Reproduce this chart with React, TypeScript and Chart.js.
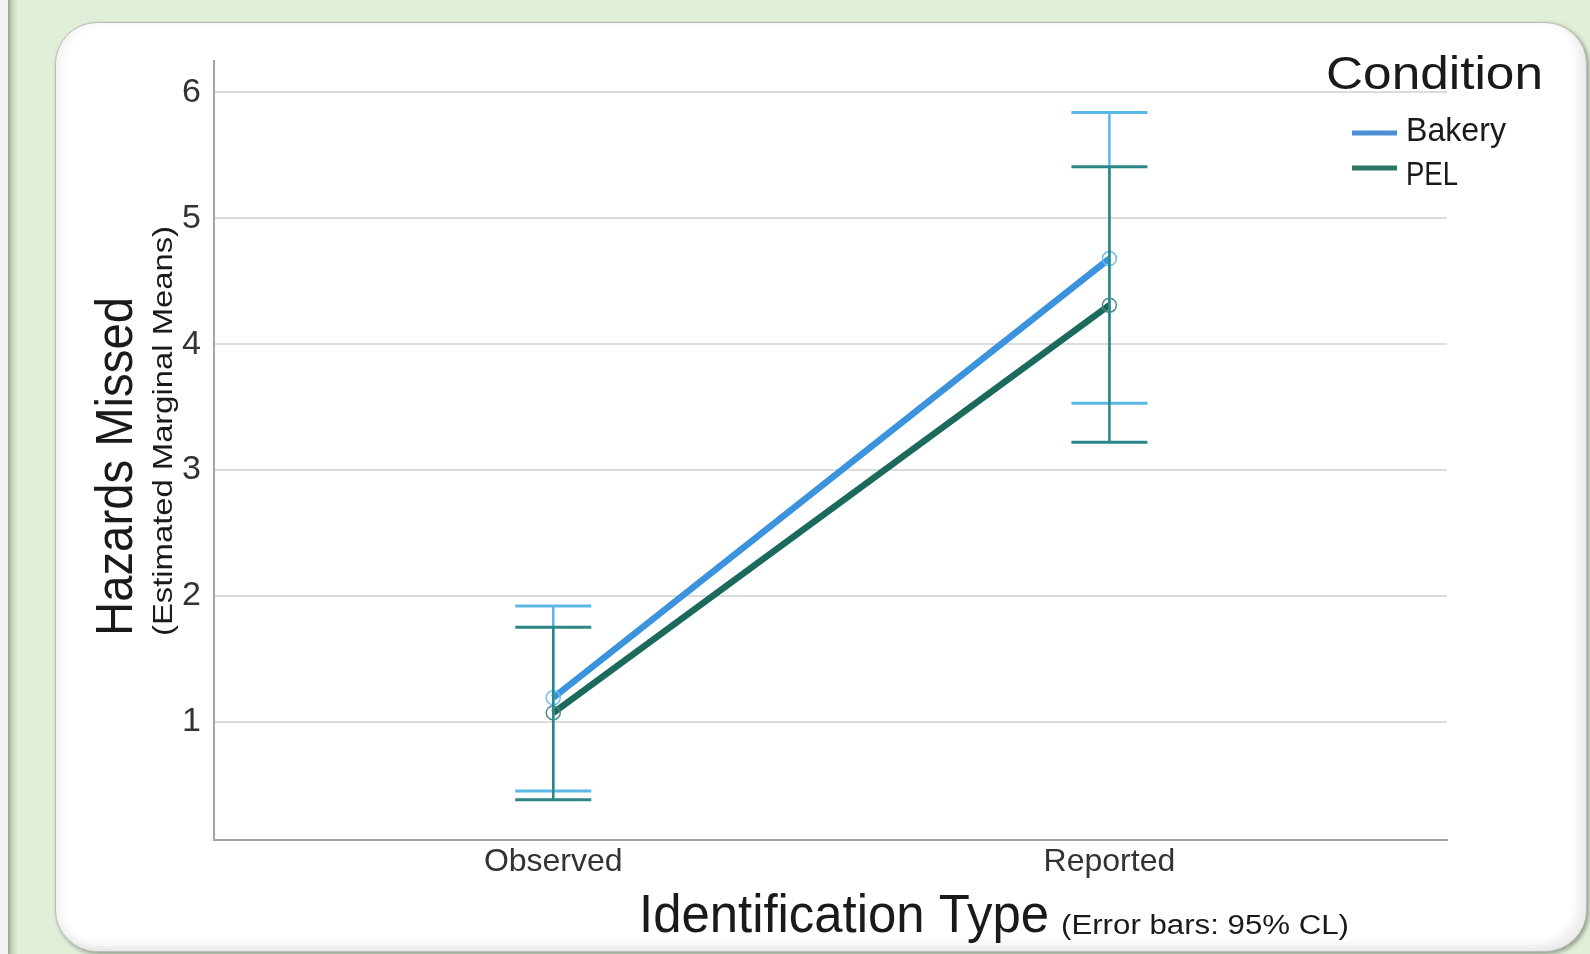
import React, { useEffect, useRef } from "react";
import { Chart, registerables } from "chart.js";

Chart.register(...registerables);

const categories = ["Observed", "Reported"];
const seriesNames = ["Bakery", "PEL"];
const bakeryMeans = [1.19, 4.68];
const bakeryLower = [0.45, 3.53];
const bakeryUpper = [1.92, 5.84];
const pelMeans = [1.07, 4.31];
const pelLower = [0.38, 3.22];
const pelUpper = [1.75, 5.41];
const yTicks = [1, 2, 3, 4, 5, 6];

const lineColors = ["#3b93de", "#1b6a5c"];
const markerColors = ["#6cc0ea", "#4a8a80"];
const errColors = ["#5ab8e6", "#2b8787"];
const legendColors = ["#4a8fd6", "#2f7565"];

const FONT = '"Liberation Sans", Arial, sans-serif';

function fitText(
  ctx: CanvasRenderingContext2D,
  text: string,
  x: number,
  y: number,
  size: number,
  width: number,
  rotate = false
) {
  ctx.save();
  ctx.font = `${size}px ${FONT}`;
  const w = ctx.measureText(text).width;
  const sx = width / w;
  ctx.translate(x, y);
  if (rotate) ctx.rotate(-Math.PI / 2);
  ctx.scale(sx, 1);
  ctx.textAlign = "left";
  ctx.textBaseline = "alphabetic";
  ctx.fillText(text, 0, 0);
  ctx.restore();
}

const textPlugin = {
  id: "textPlugin",
  afterDraw(chart: any) {
    const ctx: CanvasRenderingContext2D = chart.ctx;
    ctx.save();
    ctx.fillStyle = "#1a1a1a";
    // y axis titles
    fitText(ctx, "Hazards Missed", 132, 636, 52, 339, true);
    fitText(ctx, "(Estimated Marginal Means)", 172, 636, 28, 410, true);
    // x axis titles
    fitText(ctx, "Identification Type", 639, 932, 54, 410);
    fitText(ctx, "(Error bars: 95% CL)", 1061, 934, 27, 288);
    // legend
    fitText(ctx, "Condition", 1326, 89, 47, 217);
    const ys = [141, 185];
    const widths = [100, 52];
    const swY = [133, 168];
    seriesNames.forEach((name, i) => {
      ctx.strokeStyle = legendColors[i];
      ctx.lineWidth = 5;
      ctx.beginPath();
      ctx.moveTo(1352, swY[i]);
      ctx.lineTo(1397, swY[i]);
      ctx.stroke();
      ctx.fillStyle = "#1a1a1a";
      fitText(ctx, name, 1406, ys[i], 33, widths[i]);
    });
    ctx.restore();
  },
};

export default function App() {
  const ref = useRef<HTMLCanvasElement | null>(null);

  useEffect(() => {
    document.body.style.margin = "0";
    const means = [bakeryMeans, pelMeans];
    const lows = [bakeryLower, pelLower];
    const highs = [bakeryUpper, pelUpper];

    const datasets: any[] = [];
    // main lines
    seriesNames.forEach((name, s) => {
      datasets.push({
        label: name,
        data: categories.map((_, i) => ({ x: i + 1, y: means[s][i] })),
        borderColor: lineColors[s],
        borderWidth: 6.5,
        pointRadius: 7,
        pointStyle: "circle",
        pointBackgroundColor: "rgba(255,255,255,0)",
        pointBorderColor: markerColors[s],
        pointBorderWidth: 1.5,
        order: 10 + s,
      });
    });
    // error bars
    seriesNames.forEach((name, s) => {
      categories.forEach((_, i) => {
        datasets.push({
          label: `${name} CI ${categories[i]}`,
          data: [
            { x: i + 1, y: lows[s][i] },
            { x: i + 1, y: highs[s][i] },
          ],
          borderColor: errColors[s],
          borderWidth: 2.5,
          pointStyle: "line",
          pointRadius: 38,
          pointHoverRadius: 38,
          pointBorderColor: errColors[s],
          pointBorderWidth: 3,
          order: s === 1 ? 0 : 1,
        });
      });
    });

    const chart = new Chart(ref.current as HTMLCanvasElement, {
      type: "line",
      data: { datasets },
      options: {
        animation: false,
        responsive: false,
        maintainAspectRatio: false,
        layout: { padding: { left: 0, top: 61, right: 143, bottom: 0 } },
        plugins: { legend: { display: false }, tooltip: { enabled: false } },
        scales: {
          x: {
            type: "linear",
            min: 0.39,
            max: 2.607,
            afterFit: (s: any) => {
              s.height = 114;
            },
            afterBuildTicks: (s: any) => {
              s.ticks = categories.map((_, i) => ({ value: i + 1 }));
            },
            ticks: {
              callback: (v: any) => categories[Math.round(Number(v)) - 1] ?? "",
              font: { family: FONT, size: 32 },
              color: "#333",
              padding: -5,
              maxRotation: 0,
              autoSkip: false,
            },
            grid: { display: false },
            border: { display: true, color: "#a4a4a4", width: 2 },
          },
          y: {
            min: 0.06,
            max: 6.25,
            afterFit: (s: any) => {
              s.width = 214;
            },
            afterBuildTicks: (s: any) => {
              s.ticks = yTicks.map((v) => ({ value: v }));
            },
            ticks: {
              font: { family: FONT, size: 34 },
              color: "#333",
              padding: 13,
            },
            grid: { color: "#dcdcdc", lineWidth: 2, drawTicks: false },
            border: { display: true, color: "#a4a4a4", width: 2 },
          },
        },
      } as any,
      plugins: [textPlugin],
    });
    return () => chart.destroy();
  }, []);

  return (
    <div
      style={{
        position: "relative",
        width: 1590,
        height: 954,
        overflow: "hidden",
        background:
          "linear-gradient(to right, #f2f2f2 0px, #f2f2f2 8px, #93a58a 8px, #c4d4ba 12px, #e1eed8 18px)",
      }}
    >
      <div
        style={{
          position: "absolute",
          left: 55,
          top: 22,
          width: 1532,
          height: 930,
          background: "#ffffff",
          borderRadius: 42,
          border: "1px solid #b8bcb4",
          boxSizing: "border-box",
          boxShadow:
            "inset -8px -6px 10px rgba(0,0,0,0.08), inset 6px 0px 8px rgba(0,0,0,0.05), 2px 2px 4px rgba(0,0,0,0.35)",
        }}
      />
      <canvas
        ref={ref}
        width={1590}
        height={954}
        style={{ position: "absolute", left: 0, top: 0, width: 1590, height: 954 }}
      />
    </div>
  );
}
